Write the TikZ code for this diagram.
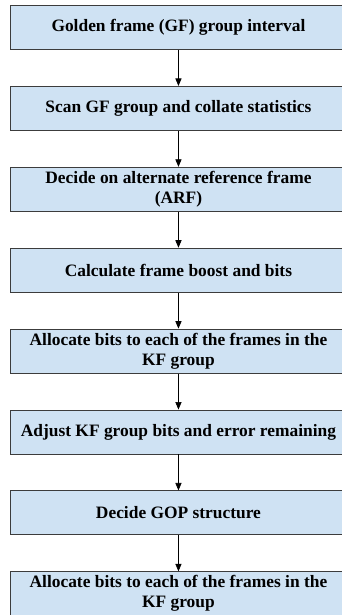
\documentclass[tikz,border=0pt]{standalone}
\usepackage{fontspec}
\setmainfont{Liberation Serif}
\usepackage{tikz}
\usetikzlibrary{arrows,%
                positioning}
\definecolor{BoxFill}{RGB}{207,226,243}
\definecolor{BoxLine}{RGB}{60,60,60}

\begin{document}
\begin{tikzpicture}[x = 1pt, y = 1pt, >=triangle 45, node distance = 36pt]
  \tikzstyle{StepBox} = [draw = BoxLine, fill = BoxFill, line width = 0.9pt,
                         minimum width = 336pt, minimum height = 44pt,
                         inner sep = 1pt, align = center,
                         font = \fontsize{17.4}{20}\selectfont\bfseries]
\tikzset{FlowEdge/.style={->, line width = 0.7pt}}
\useasboundingbox (0,0) rectangle (342,-615);

\node[StepBox, anchor = north west] (S1) at (10,-5) {Golden frame (GF) group interval};
\node[StepBox, below = of S1] (S2) {Scan GF group and collate statistics};
\node[StepBox, below = of S2] (S3) {Decide on alternate reference frame\\(ARF)};
\node[StepBox, below = of S3] (S4) {Calculate frame boost and bits};
\node[StepBox, below = of S4] (S5) {Allocate bits to each of the frames in the\\KF group};
\node[StepBox, below = of S5] (S6) {Adjust KF group bits and error remaining};
\node[StepBox, below = of S6] (S7) {Decide GOP structure};
\node[StepBox, below = of S7] (S8) {Allocate bits to each of the frames in the\\KF group};

\draw[FlowEdge] (S1) -- (S2);
\draw[FlowEdge] (S2) -- (S3);
\draw[FlowEdge] (S3) -- (S4);
\draw[FlowEdge] (S4) -- (S5);
\draw[FlowEdge] (S5) -- (S6);
\draw[FlowEdge] (S6) -- (S7);
\draw[FlowEdge] (S7) -- (S8);

\end{tikzpicture}
\end{document}
